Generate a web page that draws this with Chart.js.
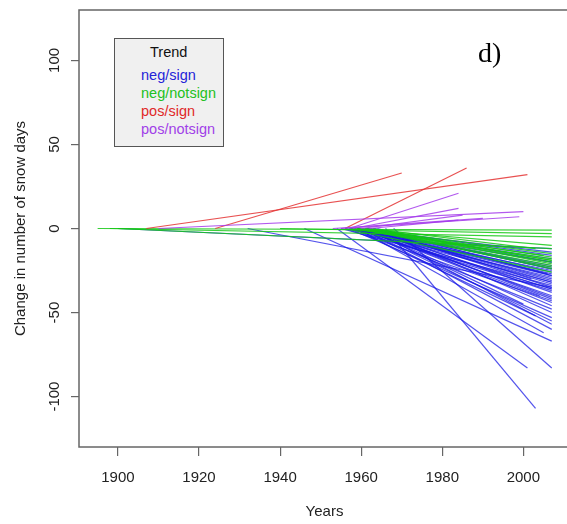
<!DOCTYPE html>
<html><head><meta charset="utf-8">
<script src="https://cdn.jsdelivr.net/npm/chart.js@4/dist/chart.umd.min.js"></script>
<style>
html,body{margin:0;padding:0;background:#fff;overflow:hidden;}
#wrap{position:relative;width:572px;height:524px;}
#wrap canvas{position:absolute;left:0;top:0;}
.lg{position:absolute;font-family:"Liberation Sans",Arial,sans-serif;font-size:14.5px;line-height:18px;white-space:nowrap;}
#legend{position:absolute;left:114px;top:38px;width:110px;height:109px;border:1px solid #555;background:#f0f0f0;box-sizing:border-box;}
#panel{position:absolute;left:478px;top:39px;font-family:"Liberation Serif","Times New Roman",serif;font-size:28px;line-height:28px;color:#000;}
</style></head>
<body>
<div id="wrap">
<canvas id="c" width="572" height="524"></canvas>
<div id="legend"></div>
<div class="lg" style="left:150px;top:43px;color:#111;">Trend</div>
<div class="lg" style="left:141px;top:66px;color:#2424d8;">neg/sign</div>
<div class="lg" style="left:141px;top:84px;color:#22c022;">neg/notsign</div>
<div class="lg" style="left:141px;top:102px;color:#e02828;">pos/sign</div>
<div class="lg" style="left:141px;top:120px;color:#a040e8;">pos/notsign</div>
<div id="panel">d)</div>
</div>
<script>
// Trend lines: each runs from (start year, 0) to (end year, change)
const negSignStart  = [1900,1932,1946,1954,1966,1968,
  1957,1961,1959,1963,1958,1960,1962,1956,1961,1959,1964,1957,1960,1962,1958,1961,1955,1963,1960,1957,
  1962,1959,1961,1956,1960,1963,1958,1961,1957,1960,1962,1959,1961,1958,1960,1963,1961,1957,1962,1960,
  1961,1959,1962,1958];
const negSignEnd    = [2007,2007,2007,2001,2003,2007,
  2007,2007,2007,2007,2007,2007,2007,2007,2007,2007,2007,2007,2007,2007,2007,2007,2007,2007,2007,2007,
  2007,2007,2007,2007,2007,2007,2007,2007,2007,2007,2007,2005,2000,2003,2004,2002,2006,2007,2007,2007,
  2007,2007,2007,2007];
const negSignChange = [-12,-35,-67,-83,-107,-83,
  -14,-16,-18,-20,-22,-23,-24,-25,-26,-27,-28,-29,-30,-31,-32,-33,-34,-35,-36,-37,
  -38,-40,-41,-43,-44,-46,-48,-50,-53,-55,-57,-62,-45,-52,-40,-30,-27,-20,-42,-60,
  -24,-28,-32,-36];

const negNotSignStart  = [1895,1898,1900,1940,1958,1960,1961,1957,1962,1959,1963,1960,1961,1958,1962,1956,1960,1959];
const negNotSignEnd    = [2007,2007,2007,2007,2007,2007,2007,2007,2007,2007,2007,2007,2007,2005,2003,2007,2007,2007];
const negNotSignChange = [-1,-5,-12,-3,-10,-15,-17,-18,-19,-20,-21,-22,-24,-16,-12,-26,-19,-23];

const posSignStart  = [1907,1924,1956];
const posSignEnd    = [2001,1970,1986];
const posSignChange = [32,33,36];

const posNotSignStart  = [1910,1957,1958,1955,1960,1953,1962];
const posNotSignEnd    = [2000,1984,1984,1999,1985,1990,1984];
const posNotSignChange = [10,21,12,7,8,6,5];

const xTickValues = [1900,1920,1940,1960,1980,2000];
const yTickValues = [-100,-50,0,50,100];

function lines(starts, ends, changes, color, width) {
  return starts.map((s, i) => ({
    data: [{x: s, y: 0}, {x: ends[i], y: changes[i]}],
    borderColor: color, borderWidth: width, pointRadius: 0, fill: false, tension: 0
  }));
}
// Chart.js draws the first dataset last (on top)
const datasets = [].concat(
  lines(posNotSignStart, posNotSignEnd, posNotSignChange, 'rgba(165,60,235,0.85)', 1.2),
  lines(posSignStart, posSignEnd, posSignChange, 'rgba(228,50,50,0.85)', 1.2),
  lines(negNotSignStart, negNotSignEnd, negNotSignChange, 'rgba(20,200,20,0.85)', 1.2),
  lines(negSignStart, negSignEnd, negSignChange, 'rgba(25,25,230,0.75)', 1.2)
);

const font = {family: '"Liberation Sans", Arial, sans-serif', size: 15};
const boxPlugin = {
  id: 'box',
  afterDatasetsDraw(chart) {
    const {ctx, chartArea: a} = chart;
    ctx.save();
    ctx.strokeStyle = '#666';
    ctx.lineWidth = 1.5;
    ctx.strokeRect(a.left, a.top, a.right - a.left, a.bottom - a.top);
    ctx.restore();
  }
};

new Chart(document.getElementById('c'), {
  type: 'line',
  data: {datasets},
  plugins: [boxPlugin],
  options: {
    responsive: false,
    animation: false,
    layout: {padding: {top: 7, right: 2, left: 0, bottom: 0}},
    plugins: {legend: {display: false}, tooltip: {enabled: false}},
    scales: {
      x: {
        type: 'linear', min: 1890.4, max: 2011.5,
        afterBuildTicks: s => { s.ticks = xTickValues.map(v => ({value: v})); },
        afterFit: s => { s.height = 77; },
        grid: {drawOnChartArea: false, drawTicks: true, tickLength: 9, color: '#666', lineWidth: 1.2},
        border: {display: false},
        ticks: {padding: 13, color: '#222', font, maxRotation: 0, autoSkip: false, callback: v => String(v)},
        title: {display: true, text: 'Years', color: '#222', font, padding: {top: 0, bottom: 3}}
      },
      y: {
        type: 'linear', min: -130, max: 130,
        afterBuildTicks: s => { s.ticks = yTickValues.map(v => ({value: v})); },
        afterFit: s => { s.width = 79; },
        grid: {drawOnChartArea: false, drawTicks: true, tickLength: 8, color: '#666', lineWidth: 1.2},
        border: {display: false},
        ticks: {padding: 1, color: '#222', font, minRotation: 90, maxRotation: 90, crossAlign: 'center', autoSkip: false, callback: v => String(v)},
        title: {display: true, text: 'Change in number of snow days', color: '#222', font, padding: {top: 12, bottom: 0}}
      }
    }
  }
});
</script>
</body></html>
